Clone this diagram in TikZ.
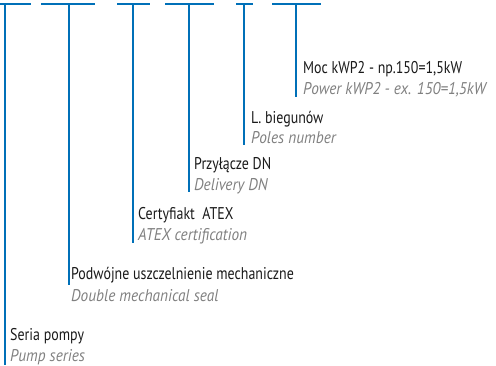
\documentclass[tikz,border=0pt]{standalone}
\usepackage{fontspec}
\setmainfont{PT Sans}[FakeStretch=0.82]
\newfontfamily\enfont{PT Sans}[FakeStretch=0.9]
\usepackage{tikz}
\usetikzlibrary{calc}

\definecolor{legblue}{HTML}{0070B8}
\definecolor{leggrey}{HTML}{808080}
\definecolor{legblack}{HTML}{1A1A1A}

\begin{document}
\begin{tikzpicture}[x=1pt, y=-1pt,
	bar/.style={draw=legblue, line width=1.3pt},
	pl/.style={anchor=base west, inner sep=0pt, text=legblack, font=\fontsize{17}{20}\selectfont},
	en/.style={anchor=base west, inner sep=0pt, text=leggrey, font=\enfont\fontsize{17}{20}\selectfont\itshape}]
			\useasboundingbox (0,0) rectangle (496,365);

			% bars at the top
			\coordinate(A1) at (0,4);   \coordinate(A2) at (31,4);
			\coordinate(B1) at (41,4);  \coordinate(B2) at (95,4);
			\coordinate(C1) at (117,4); \coordinate(C2) at (150,4);
			\coordinate(D1) at (165,4); \coordinate(D2) at (214,4);
			\coordinate(E1) at (236,4); \coordinate(E2) at (253,4);
			\coordinate(F1) at (272,4); \coordinate(F2) at (321,4);

			% line ends
			\coordinate(a) at (5,365);
			\coordinate(b) at (69,285);
			\coordinate(c) at (133,243);
			\coordinate(d) at (189,192);
			\coordinate(e) at (244,145);
			\coordinate(f) at (296,97);

			\draw[bar] (A1) -- (A2);
			\draw[bar] (B1) -- (B2);
			\draw[bar] (C1) -- (C2);
			\draw[bar] (D1) -- (D2);
			\draw[bar] (E1) -- (E2);
			\draw[bar] (F1) -- (F2);

			\draw[bar] (a |- A1) -- (a);
			\draw[bar] (b |- B1) -- (b);
			\draw[bar] (c |- C1) -- (c);
			\draw[bar] (d |- D1) -- (d);
			\draw[bar] (e |- E1) -- (e);
			\draw[bar] (f |- F1) -- (f);

			\node[pl] (moc) at (303,73) {Moc kWP2 - np.150=1,5kW};
			\node[en] (power) at (303,94) {Power kWP2 - ex. 150=1,5kW};
			\node[pl] (bieg) at (251,123) {L. biegunów};
			\node[en] (poles) at (251,143) {Poles number};
			\node[pl] (dn) at (194,169) {Przyłącze DN};
			\node[en] (deliv) at (194,190) {Delivery DN};
			\node[pl] (atex) at (138,219) {Certyfiakt\ \ ATEX};
			\node[en] (cert) at (138,240) {ATEX certification};
			\node[pl] (usz) at (71,279) {Podwójne uszczelnienie mechaniczne};
			\node[en] (seal) at (71,301) {Double mechanical seal};
			\node[pl] (seria) at (10,340) {Seria pompy};
			\node[en] (pump) at (10,361) {Pump series};
		\end{tikzpicture}
\end{document}
